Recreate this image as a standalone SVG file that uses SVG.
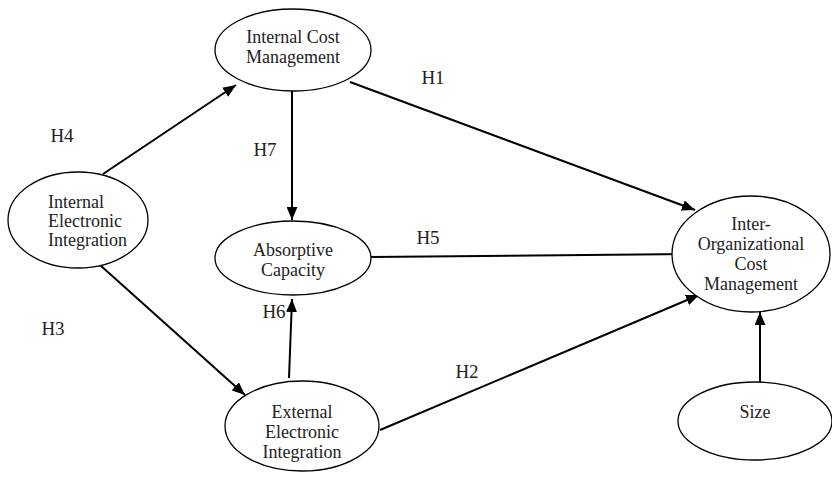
<svg xmlns="http://www.w3.org/2000/svg" width="832" height="478" viewBox="0 0 832 478" font-family="'Liberation Serif', 'Times New Roman', serif">
<style>
.n ellipse{fill:#fff;stroke:#000;stroke-width:1.3}
text{font-family:'Liberation Serif','Times New Roman',serif;font-size:18px;fill:#222;text-anchor:middle}
.l{font-size:19px}
.c line{stroke:#000;stroke-width:2}
</style>
<defs>
<marker id="a" viewBox="0 0 12 10" refX="12" refY="5" markerWidth="6.5" markerHeight="5.5" orient="auto" markerUnits="strokeWidth">
<path d="M0,0L12,5L0,10z" fill="#000"/>
</marker>
</defs>
<g class="c">
<line x1="103" y1="174" x2="236" y2="85" marker-end="url(#a)"/>
<line x1="350" y1="82" x2="695" y2="210" marker-end="url(#a)"/>
<line x1="292" y1="91" x2="292" y2="220" marker-end="url(#a)"/>
<line x1="371" y1="257" x2="691" y2="254" marker-end="url(#a)"/>
<line x1="100" y1="265" x2="245" y2="395" marker-end="url(#a)"/>
<line x1="289" y1="378" x2="292" y2="299" marker-end="url(#a)"/>
<line x1="380" y1="430" x2="699" y2="295" marker-end="url(#a)"/>
<line x1="760" y1="383" x2="760" y2="312" marker-end="url(#a)"/>
</g>
<g id="icm" class="n"><ellipse cx="293" cy="50" rx="78" ry="41"/><text x="293" y="43">Internal Cost</text><text x="293" y="63">Management</text></g>
<g id="iei" class="n"><ellipse cx="78" cy="220" rx="70" ry="48"/><text x="48" y="208" style="text-anchor:start">Internal</text><text x="48" y="227" style="text-anchor:start">Electronic</text><text x="48" y="246" style="text-anchor:start">Integration</text></g>
<g id="ac" class="n"><ellipse cx="293" cy="258" rx="78" ry="37"/><text x="293" y="256">Absorptive</text><text x="293" y="276">Capacity</text></g>
<g id="ioc" class="n"><ellipse cx="751" cy="254" rx="79" ry="58"/><text x="751" y="230">Inter-</text><text x="751" y="250">Organizational</text><text x="751" y="270">Cost</text><text x="751" y="290">Management</text></g>
<g id="eei" class="n"><ellipse cx="302" cy="426" rx="77" ry="45"/><text x="302" y="418">External</text><text x="302" y="438">Electronic</text><text x="302" y="458">Integration</text></g>
<g id="size" class="n"><ellipse cx="755" cy="421" rx="77" ry="39"/><text x="755" y="418">Size</text></g>
<g id="labels">
<text class="l" x="433" y="84">H1</text>
<text class="l" x="62" y="142">H4</text>
<text class="l" x="265" y="156">H7</text>
<text class="l" x="428" y="244">H5</text>
<text class="l" x="53" y="335">H3</text>
<text class="l" x="274" y="318">H6</text>
<text class="l" x="467" y="378">H2</text>
</g>
</svg>
